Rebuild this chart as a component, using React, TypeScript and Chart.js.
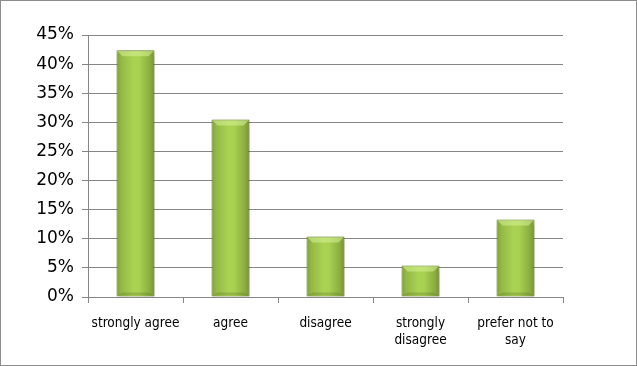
import React, { useEffect, useRef } from "react";
import { Chart, registerables } from "chart.js";

Chart.register(...registerables);

const categories: (string | string[])[] = [
  "strongly agree",
  "agree",
  "disagree",
  ["strongly", "disagree"],
  ["prefer not to", "say"],
];
const values: number[] = [42.4, 30.5, 10.4, 5.4, 13.3];
const yMax = 45;
const yStep = 5;

const barShadow = {
  id: "barShadow",
  beforeDatasetsDraw(chart: any) {
    const ctx = chart.ctx;
    const meta = chart.getDatasetMeta(0);
    meta.data.forEach((bar: any) => {
      const { x, width } = bar.getProps(["x", "width"], true);
      if (!isFinite(x) || !isFinite(width)) return;
      const g = ctx.createLinearGradient(x - width / 2, 0, x + width / 2, 0);
      g.addColorStop(0, "#7f9e39");
      g.addColorStop(0.12, "#93b845");
      g.addColorStop(0.45, "#aad353");
      g.addColorStop(0.6, "#a8d051");
      g.addColorStop(0.88, "#8aad3f");
      g.addColorStop(1, "#769233");
      bar.options = Object.assign({}, bar.options, { backgroundColor: g });
    });
    ctx.save();
    ctx.shadowColor = "rgba(0,0,0,0.35)";
    ctx.shadowBlur = 5;
    ctx.shadowOffsetX = 1;
    ctx.shadowOffsetY = 2;
  },
  afterDatasetsDraw(chart: any) {
    const ctx = chart.ctx;
    ctx.restore();
    const meta = chart.getDatasetMeta(0);
    meta.data.forEach((bar: any) => {
      const { x, y, width, base } = bar.getProps(["x", "y", "width", "base"], true);
      const l = x - width / 2;
      const r = x + width / 2;
      const b = 6;
      ctx.save();
      ctx.beginPath();
      ctx.moveTo(l + 1, y + 1);
      ctx.lineTo(r - 1, y + 1);
      ctx.lineTo(r - b, y + b);
      ctx.lineTo(l + b, y + b);
      ctx.closePath();
      ctx.fillStyle = "rgba(215,242,150,0.55)";
      ctx.fill();
      ctx.beginPath();
      ctx.moveTo(l + 1, base - 1);
      ctx.lineTo(r - 1, base - 1);
      ctx.lineTo(r - b, base - b + 2);
      ctx.lineTo(l + b, base - b + 2);
      ctx.closePath();
      ctx.fillStyle = "rgba(80,100,30,0.25)";
      ctx.fill();
      ctx.restore();
    });
  },
};

export default function App() {
  const ref = useRef<HTMLCanvasElement>(null);
  useEffect(() => {
    document.body.style.margin = "0";
    const canvas = ref.current!;
    const chart = new Chart(canvas, {
      type: "bar",
      data: {
        labels: categories as any,
        datasets: [
          {
            data: values,
            barPercentage: 0.4,
            categoryPercentage: 1,
            borderWidth: 1,
            borderColor: "#72902f",
            backgroundColor: () => "#98c046",
          },
        ],
      },
      options: {
        animation: false,
        responsive: false,
        maintainAspectRatio: false,
        layout: { padding: { top: 34, right: 73, left: 0, bottom: 0 } },
        plugins: { legend: { display: false }, tooltip: { enabled: false } },
        scales: {
          x: {
            offset: true,
            grid: {
              offset: true,
              drawOnChartArea: false,
              drawTicks: true,
              tickLength: 6,
              color: "#868686",
            },
            border: { display: true, color: "#868686", width: 1 },
            ticks: {
              color: "#000",
              font: { family: "DejaVu Sans Condensed", size: 13.5, lineHeight: 1.25 },
              padding: 12,
              maxRotation: 0,
              autoSkip: false,
            },
            afterFit: (s: any) => {
              s.height = 68;
            },
          },
          y: {
            min: 0,
            max: yMax,
            grid: { color: "#868686", tickLength: 6, lineWidth: 1 },
            border: { display: true, color: "#868686", width: 1 },
            ticks: {
              stepSize: yStep,
              color: "#000",
              font: { family: "DejaVu Sans", size: 17 },
              padding: 8,
              callback: (v: any) => v + "%",
            },
            afterFit: (s: any) => {
              s.width = 87;
            },
          },
        },
      },
      plugins: [barShadow],
    });
    return () => chart.destroy();
  }, []);
  return (
    <div
      style={{
        width: 637,
        height: 366,
        boxSizing: "border-box",
        border: "1px solid #8c8c8c",
        background: "#fff",
      }}
    >
      <canvas ref={ref} width={635} height={364} style={{ display: "block" }} />
    </div>
  );
}
